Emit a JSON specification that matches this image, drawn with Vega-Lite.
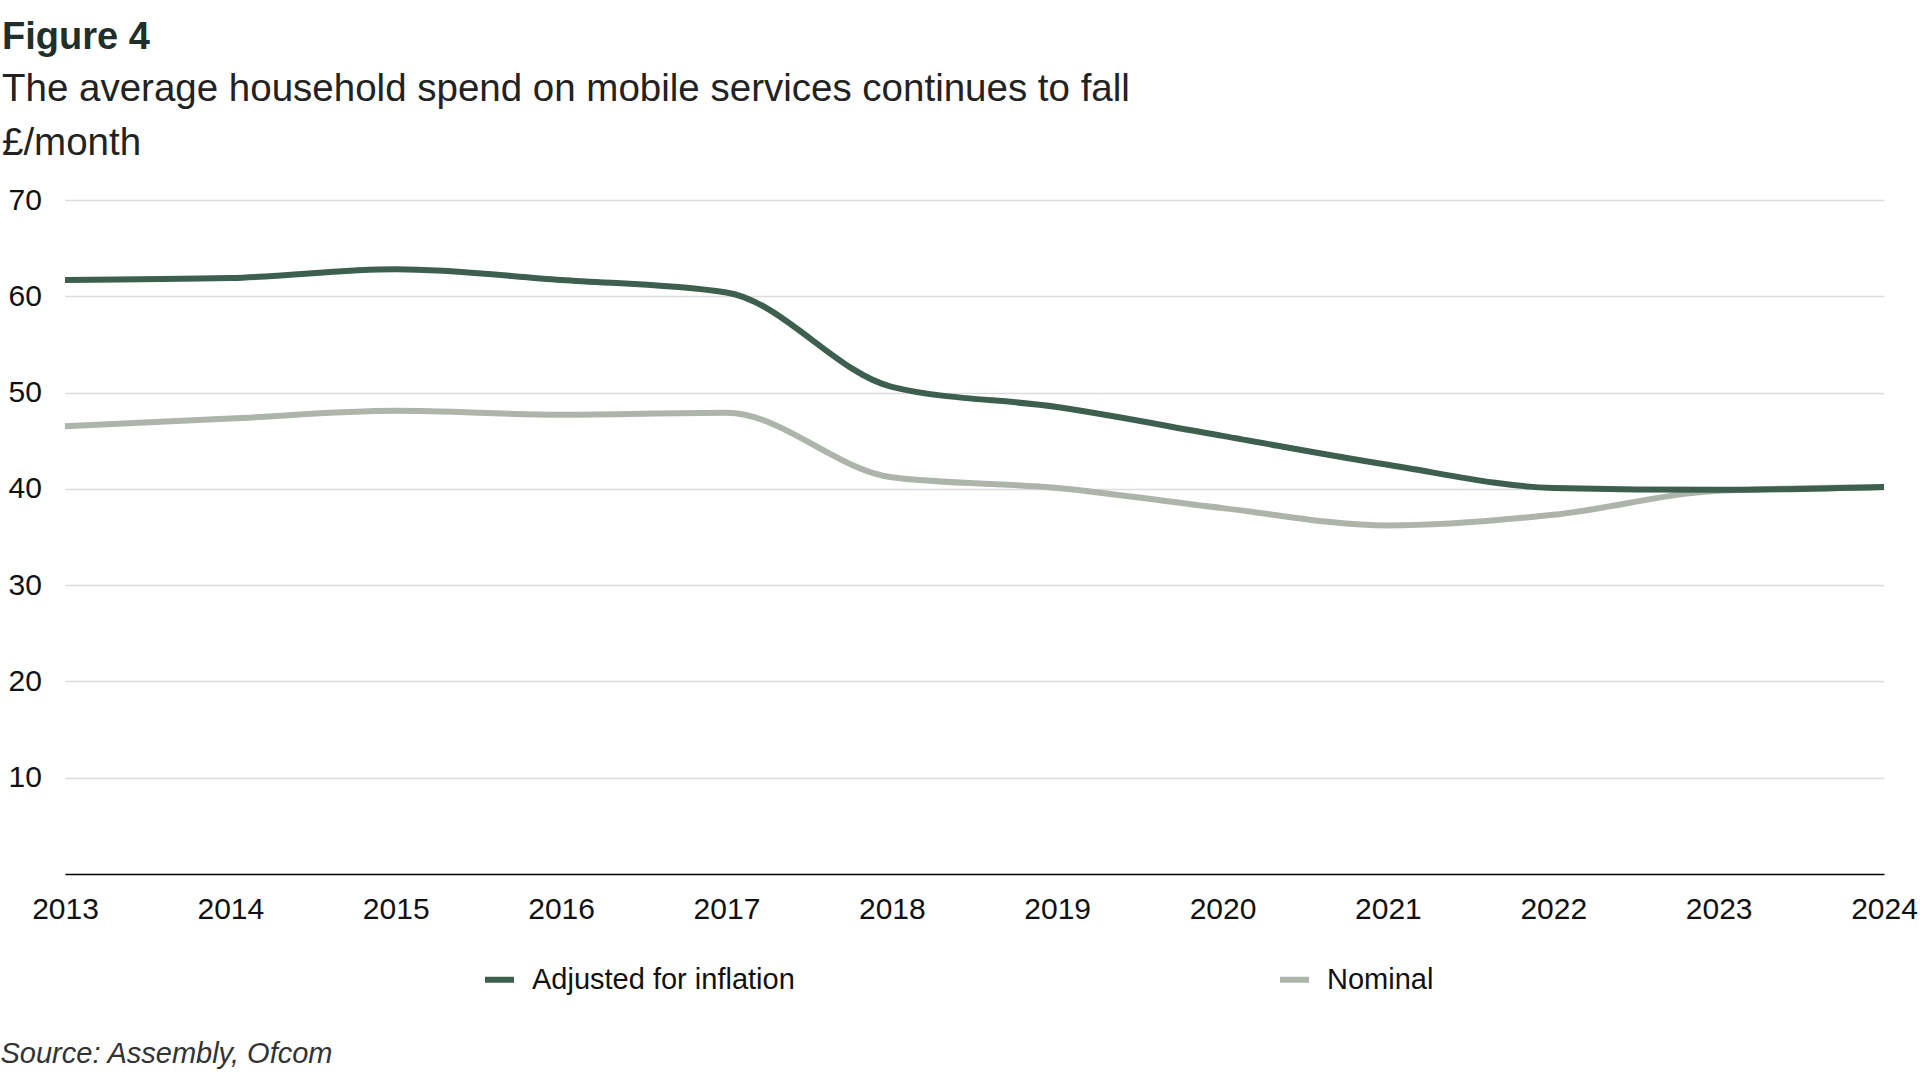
{
  "$schema": "https://vega.github.io/schema/vega-lite/v6.json",
  "width": 1819,
  "height": 674,
  "autosize": {"type": "none"},
  "padding": {"left": 65, "top": 200, "right": 36, "bottom": 206},
  "background": "white",
  "title": {
    "text": "Figure 4",
    "subtitle": ["The average household spend on mobile services continues to fall", "£/month"],
    "anchor": "start",
    "frame": "group",
    "dx": -63,
    "offset": 23,
    "font": "Liberation Sans",
    "fontSize": 38,
    "fontWeight": "bold",
    "color": "#1f3029",
    "subtitleFont": "Liberation Sans",
    "subtitleFontSize": 38.5,
    "subtitleColor": "#222222",
    "subtitleLineHeight": 54,
    "subtitlePadding": 14
  },
  "data": {
    "values": [
      {"year": 2013, "series": "Nominal", "value": 46.5},
      {"year": 2014, "series": "Nominal", "value": 47.3},
      {"year": 2015, "series": "Nominal", "value": 48.1},
      {"year": 2016, "series": "Nominal", "value": 47.7},
      {"year": 2017, "series": "Nominal", "value": 47.9},
      {"year": 2018, "series": "Nominal", "value": 41.2},
      {"year": 2019, "series": "Nominal", "value": 40.1},
      {"year": 2020, "series": "Nominal", "value": 38.0},
      {"year": 2021, "series": "Nominal", "value": 36.2},
      {"year": 2022, "series": "Nominal", "value": 37.3},
      {"year": 2023, "series": "Nominal", "value": 39.8},
      {"year": 2024, "series": "Nominal", "value": 40.2},
      {"year": 2013, "series": "Adjusted for inflation", "value": 61.7},
      {"year": 2014, "series": "Adjusted for inflation", "value": 61.9},
      {"year": 2015, "series": "Adjusted for inflation", "value": 62.8},
      {"year": 2016, "series": "Adjusted for inflation", "value": 61.7},
      {"year": 2017, "series": "Adjusted for inflation", "value": 60.4},
      {"year": 2018, "series": "Adjusted for inflation", "value": 50.6},
      {"year": 2019, "series": "Adjusted for inflation", "value": 48.5},
      {"year": 2020, "series": "Adjusted for inflation", "value": 45.5},
      {"year": 2021, "series": "Adjusted for inflation", "value": 42.5},
      {"year": 2022, "series": "Adjusted for inflation", "value": 40.1},
      {"year": 2023, "series": "Adjusted for inflation", "value": 39.9},
      {"year": 2024, "series": "Adjusted for inflation", "value": 40.2}
    ]
  },
  "mark": {"type": "line", "strokeWidth": 6, "interpolate": "monotone"},
  "encoding": {
    "x": {
      "field": "year",
      "type": "quantitative",
      "scale": {"domain": [2013, 2024], "nice": false, "zero": false},
      "axis": {
        "values": [2013, 2014, 2015, 2016, 2017, 2018, 2019, 2020, 2021, 2022, 2023, 2024],
        "format": "d",
        "grid": false,
        "ticks": false,
        "tickSize": 0,
        "domain": true,
        "domainColor": "#000000",
        "domainWidth": 1.5,
        "labelFont": "Liberation Sans",
        "labelFontSize": 30,
        "labelColor": "#111111",
        "labelPadding": 20,
        "labelFlush": false,
        "labelOverlap": false,
        "title": "Source: Assembly, Ofcom",
        "titleX": -65,
        "titleY": 188,
        "titleAlign": "left",
        "titleAnchor": "start",
        "titleBaseline": "alphabetic",
        "titleFont": "Liberation Sans",
        "titleFontSize": 29,
        "titleFontStyle": "italic",
        "titleFontWeight": "normal",
        "titleColor": "#333333"
      }
    },
    "y": {
      "field": "value",
      "type": "quantitative",
      "scale": {"domain": [0, 70], "nice": false},
      "axis": {
        "values": [10, 20, 30, 40, 50, 60, 70],
        "title": null,
        "domain": false,
        "ticks": false,
        "tickSize": 0,
        "grid": true,
        "gridColor": "#dcdcdc",
        "gridWidth": 1.5,
        "labelFont": "Liberation Sans",
        "labelFontSize": 30,
        "labelColor": "#111111",
        "labelAlign": "left",
        "labelBaseline": "middle",
        "labelPadding": 57
      }
    },
    "color": {
      "field": "series",
      "type": "nominal",
      "scale": {"domain": ["Adjusted for inflation", "Nominal"], "range": ["#3c5f4e", "#adb4aa"]},
      "legend": {
        "title": null,
        "orient": "none",
        "legendX": 417,
        "legendY": 762,
        "direction": "horizontal",
        "columns": 2,
        "columnPadding": 473,
        "padding": 0,
        "symbolType": "stroke",
        "symbolSize": 841,
        "symbolStrokeWidth": 6,
        "labelFont": "Liberation Sans",
        "labelFontSize": 29,
        "labelColor": "#111111",
        "labelOffset": 15,
        "labelLimit": 600
      }
    }
  },
  "config": {
    "view": {"stroke": null}
  }
}
